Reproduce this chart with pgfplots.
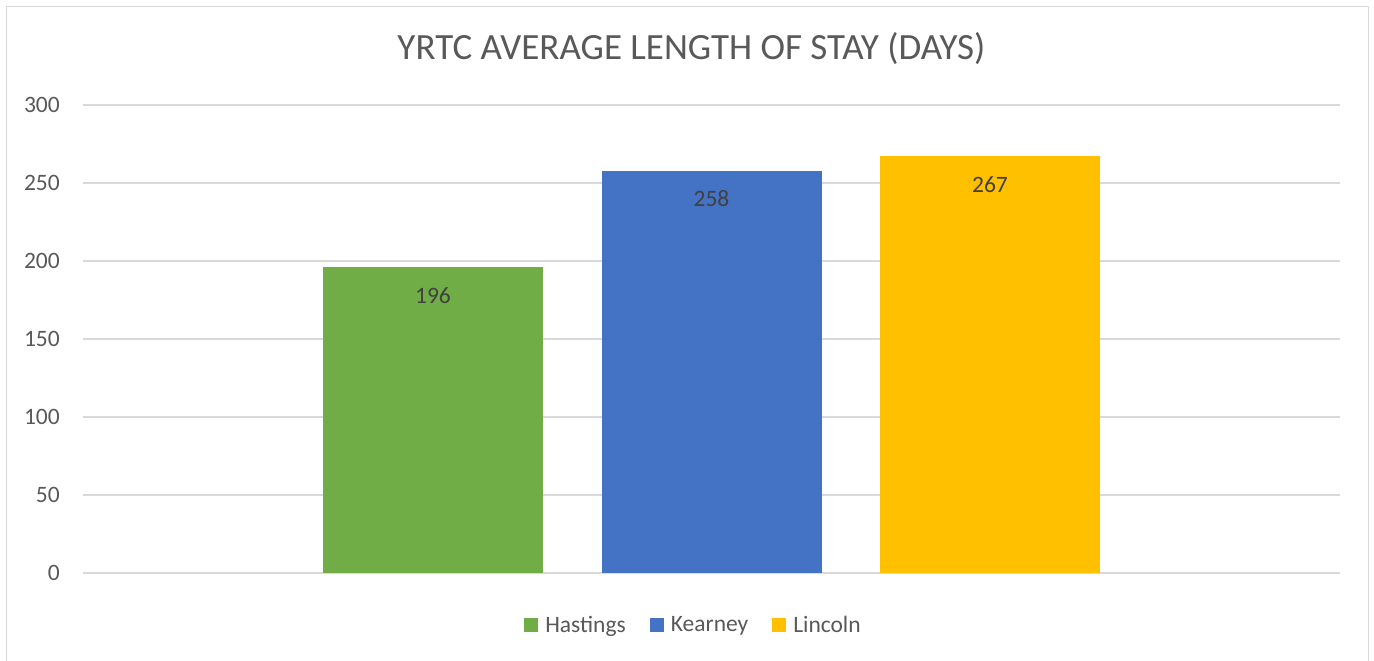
\documentclass[border=0pt]{standalone}
\usepackage{fontspec}
\setmainfont{Carlito}
\usepackage{pgfplots}
\pgfplotsset{compat=1.18}
\definecolor{hast}{HTML}{70AD47}
\definecolor{kear}{HTML}{4472C4}
\definecolor{linc}{HTML}{FFC000}
\definecolor{gridc}{HTML}{D9D9D9}
\definecolor{txt}{HTML}{595959}
\definecolor{lbl}{HTML}{404040}
\begin{document}
\begin{tikzpicture}[x=1pt,y=1pt]
\fill[white] (0,0) rectangle (1374,661);
\draw[gridc, line width=1.5pt] (6.5,-10) -- (6.5,654.5) -- (1368.5,654.5) -- (1368.5,-10);
\node[font=\fontsize{37}{44}\selectfont, text=txt, anchor=base] at (691.5,601) {YRTC AVERAGE LENGTH OF STAY (DAYS)};
\begin{axis}[
  at={(83pt,88pt)}, anchor=south west,
  scale only axis, width=1257pt, height=468pt,
  xmin=-1.2567, xmax=3.2567, ymin=0, ymax=300,
  ytick={0,50,...,300}, xtick=\empty,
  ymajorgrids, grid style={gridc, line width=1.3pt},
  axis line style={draw=none},
  major tick style={draw=none},
  yticklabel style={font=\fontsize{23.5}{28}\selectfont, text=txt, inner sep=0pt, xshift=-23pt},
  /pgf/number format/assume math mode=true,
  ybar, bar width=220pt,
  nodes near coords,
  nodes near coords style={font=\fontsize{23.5}{28}\selectfont, text=lbl, anchor=center, yshift=-28pt},
  legend columns=3,
  legend style={at={(0.4857,-0.111)}, anchor=center, draw=none, fill=none, font=\fontsize{23.5}{28}\selectfont, text=txt, /tikz/every even column/.append style={column sep=22pt}},
  legend image code/.code={\fill (0pt,-7pt) rectangle (14pt,7pt); \path (19pt,0pt);},
]
\addplot[fill=hast, draw=none, bar shift=0pt] coordinates {(0,196)};
\addplot[fill=kear, draw=none, bar shift=0pt] coordinates {(1,258)};
\addplot[fill=linc, draw=none, bar shift=0pt] coordinates {(2,267)};
\legend{Hastings,Kearney,Lincoln}
\end{axis}
\pgfresetboundingbox
\path[use as bounding box] (0,0) rectangle (1374,661);
\end{tikzpicture}
\end{document}
